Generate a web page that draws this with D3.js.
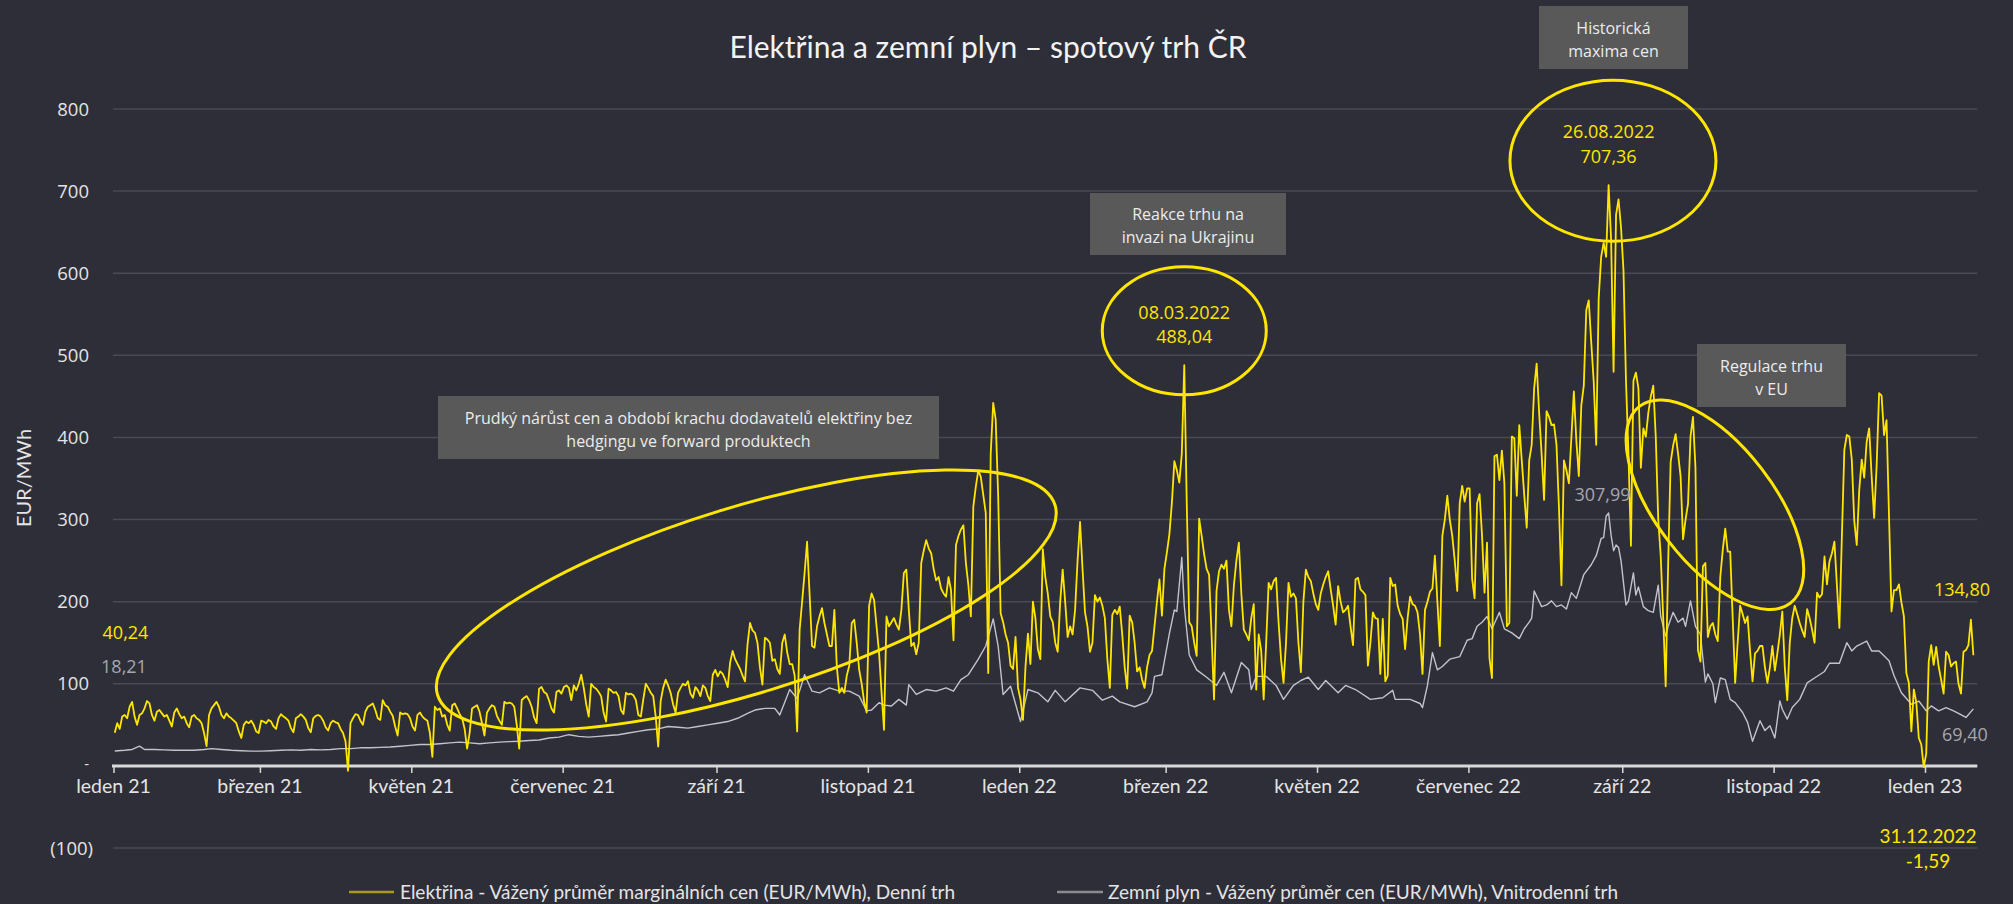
<!DOCTYPE html>
<html><head><meta charset="utf-8">
<script src="https://cdnjs.cloudflare.com/ajax/libs/d3/7.8.5/d3.min.js"></script>
<style>
html,body{margin:0;padding:0;background:#2e2e38;}
svg{display:block;}
</style></head><body>
<svg id="chart" width="2013" height="904"></svg>
<script>
// ---------------- DATA ----------------
const chartTitle = "Elektřina a zemní plyn – spotový trh ČR";
const yAxisTitle = "EUR/MWh";
const yTickValues = [-100, 0, 100, 200, 300, 400, 500, 600, 700, 800];
const xTickDates = ["2021-01-01","2021-03-01","2021-05-01","2021-07-01","2021-09-01","2021-11-01",
                    "2022-01-01","2022-03-01","2022-05-01","2022-07-01","2022-09-01","2022-11-01","2023-01-01"];
const xTickLabels = ["leden 21","březen 21","květen 21","červenec 21","září 21","listopad 21",
                     "leden 22","březen 22","květen 22","červenec 22","září 22","listopad 22","leden 23"];
const seriesNames = ["Elektřina - Vážený průměr marginálních cen (EUR/MWh), Denní trh",
                     "Zemní plyn - Vážený průměr cen (EUR/MWh), Vnitrodenní trh"];

// Electricity, daily values, one array per month
const elec2021 = [
 [40.24,52,45,60,62,58,72,78,60,50,62,64,70,79,76,62,55,66,68,64,60,62,55,48,65,70,63,58,60,52,47],
 [60,62,58,56,52,40,24,62,70,74,78,72,62,58,64,60,58,55,52,42,34,50,54,52,55,50,42,40],
 [55,54,52,56,54,48,45,58,63,60,58,55,46,41,58,60,63,60,56,46,41,58,61,62,60,55,47,43,52,55,53],
 [52,45,40,30,-6,52,58,63,62,55,50,66,72,74,76,68,58,56,80,74,72,66,61,48,37,65,63,64,63,58],
 [48,43,62,65,60,57,55,40,11,72,68,70,60,62,50,43,74,76,70,63,58,45,21,40,70,72,74,66,52,37,65],
 [70,74,72,61,55,50,78,76,77,76,72,50,21,80,83,85,80,72,59,52,94,96,90,88,80,70,65,90,92,88],
 [96,98,95,80,98,92,100,111,95,75,60,100,96,94,90,85,65,54,94,92,89,90,85,68,63,89,87,88,86,80,62],
 [60,81,100,95,89,85,60,23.5,79,95,105,98,89,75,65,89,95,100,98,103,88,83,96,92,85,98,95,85,79,111,117],
 [109,115,112,105,96,126,140,130,124,118,110,103,148,174,165,162,150,120,99,156,154,150,128,130,118,112,150,160,138,124],
 [124,110,42,166,200,235,273,210,146,144,170,182,192,174,160,146,146,190,120,89,95,89,110,122,174,178,150,117,100,78,65],
 [195,210,202,170,138,90,44,182,170,175,180,172,166,190,235,239,190,146,150,136,150,247,262,275,265,259,240,226,230,216],
 [210,206,230,214,153,269,280,288,293,247,220,182,316,340,360,352,330,308,113,380,442,422,330,186,175,160,150,122,118,157,95]
];
const elec2022 = [
 [81,56,120,161,124,200,180,142,130,264,230,210,182,175,150,139,200,239,200,157,170,160,190,250,297,240,187,170,139,150,208],
 [200,205,195,180,130,95,184,190,185,194,160,120,94,183,175,150,115,120,105,95,120,135,140,170,200,227,183,240],
 [260,282,320,371,360,345,380,488.04,320,175,170,150,134,301,280,258,240,233,160,81,213,237,245,240,250,190,170,220,250,272,210],
 [166,160,153,180,197,93,160,140,81,150,223,215,225,229,175,130,101,150,223,206,210,204,150,114,200,239,230,225,210,197],
 [190,210,221,230,237,215,195,172,219,200,187,190,195,170,147,227,229,215,212,208,122,150,187,180,179,112,179,103,110,229,219],
 [221,195,185,179,142,180,206,197,195,187,160,112,190,200,212,216,256,200,146,280,300,329,300,280,250,213,320,341,322,338],
 [338,228,204,320,331,280,211,272,131,107,377,379,348,384,344,170,174,401,399,329,415,372,330,290,372,391,460,490,430,380,324],
 [432,425,415,416,391,314,220,372,360,344,400,456,396,353,439,463,555,567,516,468,391,569,620,637,620,707.36,642,480,671,690,656],
 [603,469,380,268,469,479,460,363,411,401,430,450,463,401,300,256,180,97,247,370,390,404,380,353,276,300,319,401,425,363],
 [141,127,243,247,157,170,174,160,152,230,263,289,261,261,180,101,150,195,185,174,182,140,103,137,140,146,146,120,101,120,146],
 [116,137,160,188,120,80,150,180,195,185,174,165,157,191,180,166,150,211,205,209,255,221,249,259,273,220,168,279,385,403],
 [401,373,298,269,336,373,351,395,411,353,302,365,454,451,403,421,304,188,214,214,221,199,182,113,101,42,93,77,34,26,-1.59]
];
const elec2023 = [
 [15,127,147,123,145,121,105,88,139,135,121,125,127,100,88,139,141,147,178,134.80]
];

// Natural gas (intraday), sampled dates
const gasDates = [
 "2021-01-01","2021-01-05","2021-01-08","2021-01-11","2021-01-13","2021-01-17","2021-01-21","2021-01-25","2021-01-29",
 "2021-02-02","2021-02-06","2021-02-09","2021-02-13","2021-02-17","2021-02-21","2021-02-25",
 "2021-03-01","2021-03-05","2021-03-09","2021-03-13","2021-03-17","2021-03-21","2021-03-25","2021-03-29",
 "2021-04-02","2021-04-06","2021-04-10","2021-04-14","2021-04-18","2021-04-22","2021-04-26","2021-04-30",
 "2021-05-04","2021-05-08","2021-05-12","2021-05-16","2021-05-20","2021-05-24","2021-05-28",
 "2021-06-01","2021-06-05","2021-06-09","2021-06-13","2021-06-17","2021-06-21","2021-06-25","2021-06-29",
 "2021-07-03","2021-07-07","2021-07-11","2021-07-15","2021-07-19","2021-07-23","2021-07-27","2021-07-31",
 "2021-08-04","2021-08-08","2021-08-12","2021-08-16","2021-08-20","2021-08-24","2021-08-28",
 "2021-09-01","2021-09-05","2021-09-09","2021-09-13","2021-09-16","2021-09-20","2021-09-24","2021-09-26","2021-09-30",
 "2021-10-03","2021-10-06","2021-10-09","2021-10-12","2021-10-16","2021-10-20","2021-10-24","2021-10-28","2021-10-31",
 "2021-11-02","2021-11-05","2021-11-07","2021-11-10","2021-11-13","2021-11-16","2021-11-17","2021-11-20","2021-11-24","2021-11-28",
 "2021-12-02","2021-12-05","2021-12-08","2021-12-11","2021-12-15","2021-12-18","2021-12-21","2021-12-23","2021-12-25","2021-12-28",
 "2022-01-01","2022-01-04","2022-01-08","2022-01-12","2022-01-15","2022-01-19","2022-01-25","2022-01-30",
 "2022-02-03","2022-02-07","2022-02-10","2022-02-16","2022-02-21","2022-02-23","2022-02-24","2022-02-27",
 "2022-03-02","2022-03-04","2022-03-05","2022-03-07","2022-03-08","2022-03-10","2022-03-13","2022-03-17","2022-03-21","2022-03-24","2022-03-27","2022-03-31",
 "2022-04-03","2022-04-04","2022-04-06","2022-04-10","2022-04-14","2022-04-17","2022-04-21","2022-04-24","2022-04-27",
 "2022-05-01","2022-05-04","2022-05-09","2022-05-12","2022-05-16","2022-05-22","2022-05-27","2022-05-31",
 "2022-06-01","2022-06-07","2022-06-11","2022-06-12","2022-06-14","2022-06-16","2022-06-18","2022-06-20","2022-06-23","2022-06-27","2022-06-30",
 "2022-07-02","2022-07-04","2022-07-06","2022-07-08","2022-07-10","2022-07-13","2022-07-15","2022-07-18","2022-07-21","2022-07-23","2022-07-25","2022-07-26","2022-07-27","2022-07-30",
 "2022-08-01","2022-08-03","2022-08-05","2022-08-07","2022-08-09","2022-08-11","2022-08-13","2022-08-16","2022-08-19","2022-08-21","2022-08-23","2022-08-24","2022-08-25","2022-08-26","2022-08-27","2022-08-28","2022-08-29","2022-08-30","2022-08-31",
 "2022-09-02","2022-09-03","2022-09-05","2022-09-06","2022-09-07","2022-09-09","2022-09-11","2022-09-13","2022-09-15","2022-09-16","2022-09-18","2022-09-19","2022-09-21","2022-09-23","2022-09-25","2022-09-26","2022-09-28","2022-09-30",
 "2022-10-02","2022-10-04","2022-10-05","2022-10-07","2022-10-08","2022-10-10","2022-10-12","2022-10-14","2022-10-16","2022-10-19","2022-10-21","2022-10-23","2022-10-26","2022-10-28","2022-10-30",
 "2022-11-01","2022-11-03","2022-11-04","2022-11-06","2022-11-08","2022-11-11","2022-11-14","2022-11-17","2022-11-21","2022-11-23","2022-11-27","2022-11-30",
 "2022-12-02","2022-12-04","2022-12-08","2022-12-10","2022-12-13","2022-12-17","2022-12-19","2022-12-22","2022-12-26","2022-12-29",
 "2023-01-01","2023-01-03","2023-01-06","2023-01-09","2023-01-12","2023-01-14","2023-01-17","2023-01-20"
];
const gasValues = [
 18.21,19,20,24,20,20,19.5,19,19,
 19,20,21,20,19,18.5,18,
 18,18.5,19,19.5,19,20,19.5,20,
 21,21,22,22,22.5,23,24,25,
 26,26,27,28,29,28,27,
 28,29,29.5,30,31,31.5,34,35,
 38,36,35,36,37,38,40,42,
 44,45,48,47,46,48,50,
 52,54,58,64,68,70,70,62,93,
 82,111,91,89,95,91,91,85,67,
 68,77,74,73,81,74,99,87,93,91,
 95,91,105,111,130,146,179,146,87,97,
 54,93,89,78,92,78,95,92,
 80,85,78,72,78,89,109,111,
 161,190,188,254,195,135,117,108,98,114,89,126,
 117,93,109,109,98,81,98,104,108,
 93,104,89,98,93,81,83,92,
 81,81,76,71,98,138,117,121,130,133,153,
 155,170,175,182,167,187,167,162,155,167,175,180,213,194,
 196,201,194,196,191,211,204,233,245,256,277,278,304,307.99,281,262,269,266,250,
 196,201,235,208,218,194,189,187,220,182,158,170,187,175,180,170,201,170,
 160,102,112,100,77,107,105,81,77,65,53,30,55,43,49,
 34,79,69,57,71,81,101,107,115,125,125,150,
 140,146,152,140,140,128,110,89,75,79,
 67,73,67,71,67,64,59,69.40
];

// Annotation texts
const boxTexts = [
 ["Prudký nárůst cen a období krachu dodavatelů elektřiny bez", "hedgingu ve forward produktech"],
 ["Reakce trhu na", "invazi na Ukrajinu"],
 ["Historická", "maxima cen"],
 ["Regulace trhu", "v EU"]
];
const peakLabels = [["08.03.2022","488,04"],["26.08.2022","707,36"]];
const endLabels = {elecFirst:"40,24", gasFirst:"18,21", gasPeak:"307,99", elecLast:"134,80", gasLast:"69,40", minDate:"31.12.2022", minVal:"-1,59"};

// ---------------- CHART ----------------
const W = 2013, H = 904;
const YELLOW = "#ffe600", GASC = "#c3c3cc", TXT = "#e4e4e4", GRID = "#4a4a55", LBLGREY = "#a6a6ae";
const FCAL = "Lato, 'Open Sans', sans-serif";
const FSEG = "'Open Sans', 'Noto Sans', sans-serif";
const svg = d3.select("#chart");
svg.append("rect").attr("width", W).attr("height", H).attr("fill", "#2e2e38");

const parse = d3.timeParse("%Y-%m-%d");
const noon = d => new Date(d.getFullYear(), d.getMonth(), d.getDate(), 12);

const x = d3.scaleTime().domain([new Date(2021,0,1), new Date(2023,0,1)]).range([113.5, 1925]);
const y = d3.scaleLinear().domain([-100, 800]).range([848, 109]);
const xEnd = x(new Date(2023,0,22,2));

// build series
const elec = [];
[[2021, elec2021],[2022, elec2022],[2023, elec2023]].forEach(([yr, months]) => {
  months.forEach((arr, m) => arr.forEach((v, i) => elec.push({date: new Date(yr, m, i+1, 12), v})));
});
const gas = gasDates.map((d, i) => ({date: noon(parse(d)), v: gasValues[i]}));

// gridlines
svg.append("g").selectAll("line").data(yTickValues.filter(v => v !== 0)).join("line")
  .attr("x1", 113).attr("x2", xEnd).attr("y1", d => y(d)).attr("y2", d => y(d))
  .attr("stroke", GRID).attr("stroke-width", 1.5);

// y labels
const yFmt = v => v === 0 ? "-" : v < 0 ? "(" + Math.abs(v) + ")" : String(v);
svg.append("g").selectAll("text").data(yTickValues).join("text")
  .attr("x", d => d < 0 ? 93 : 89).attr("y", d => y(d)).attr("dy", d => d === 0 ? "0.2em" : "0.36em")
  .attr("text-anchor", "end").attr("fill", TXT)
  .style("font-family", FSEG).style("font-size", d => d === 0 ? "15px" : "18.5px")
  .text(yFmt);

// y title
svg.append("text").attr("transform", "translate(31,478) rotate(-90)")
  .attr("text-anchor", "middle").attr("fill", TXT)
  .style("font-family", FCAL).style("font-size", "20px").text(yAxisTitle);

// x axis
const xAxis = d3.axisBottom(x).tickValues(xTickDates.map(parse)).tickSize(7).tickFormat("");
const gx = svg.append("g").attr("transform", `translate(0,${y(0)})`).call(xAxis);
gx.select(".domain").remove();
gx.selectAll(".tick line").attr("stroke", "#d9d9d9").attr("stroke-width", 1.5);
svg.append("line").attr("x1", 112).attr("x2", xEnd).attr("y1", y(0)).attr("y2", y(0))
  .attr("stroke", "#d9d9d9").attr("stroke-width", 3);
svg.append("g").selectAll("text").data(xTickDates).join("text")
  .attr("x", d => x(parse(d))).attr("y", 793).attr("text-anchor", "middle").attr("fill", TXT)
  .style("font-family", FCAL).style("font-size", "19.5px")
  .text((d, i) => xTickLabels[i]);

// lines
const line = d3.line().x(d => x(d.date)).y(d => y(d.v));
svg.append("path").datum(gas).attr("d", line).attr("fill", "none")
  .attr("stroke", GASC).attr("stroke-width", 1.4).attr("stroke-linejoin", "round");
svg.append("path").datum(elec).attr("d", line).attr("fill", "none")
  .attr("stroke", YELLOW).attr("stroke-width", 1.8).attr("stroke-linejoin", "round");

// ellipses (annotation)
const ell = svg.append("g").attr("fill", "none").attr("stroke", YELLOW).attr("stroke-width", 3);
ell.append("ellipse").attr("transform", `translate(${x(new Date(2021,8,13))},${y(202)}) rotate(-17.1)`)
  .attr("rx", 323).attr("ry", 93);
ell.append("ellipse").attr("cx", x(new Date(2022,2,8,12))).attr("cy", y(530)).attr("rx", 82).attr("ry", 64);
ell.append("ellipse").attr("cx", x(new Date(2022,7,28,6))).attr("cy", y(737)).attr("rx", 103).attr("ry", 80.5);
ell.append("ellipse").attr("transform", `translate(${x(new Date(2022,9,8,8))},${y(318)}) rotate(52.5)`)
  .attr("rx", 124).attr("ry", 59);

// annotation boxes
const boxes = [
  {x0: 438, y0: 396, x1: 939, y1: 459},
  {x0: 1090, y0: 193, x1: 1286, y1: 255},
  {x0: 1539, y0: 6, x1: 1688, y1: 69},
  {x0: 1697, y0: 344, x1: 1846, y1: 407}
];
boxes.forEach((b, i) => {
  svg.append("rect").attr("x", b.x0).attr("y", b.y0).attr("width", b.x1 - b.x0).attr("height", b.y1 - b.y0)
    .attr("fill", "#595959");
  const cx = (b.x0 + b.x1) / 2, cy = (b.y0 + b.y1) / 2;
  boxTexts[i].forEach((t, j) => {
    svg.append("text").attr("x", cx).attr("y", cy + (j === 0 ? -4 : 19)).attr("text-anchor", "middle")
      .attr("fill", "#ececec").style("font-family", FSEG).style("font-size", "16px").text(t);
  });
});

// value labels
function lbl(tx, xx, yy, col, fam, fs, anchor) {
  return svg.append("text").attr("x", xx).attr("y", yy).attr("text-anchor", anchor || "middle")
    .attr("fill", col).style("font-family", fam).style("font-size", fs + "px").text(tx);
}
lbl(endLabels.elecFirst, 125.5, 639, YELLOW, FSEG, 18);
lbl(endLabels.gasFirst, 124, 673, LBLGREY, FSEG, 18);
lbl(peakLabels[0][0], x(new Date(2022,2,8,12)), 319, YELLOW, FSEG, 18);
lbl(peakLabels[0][1], x(new Date(2022,2,8,12)), 343, YELLOW, FSEG, 18);
lbl(peakLabels[1][0], x(new Date(2022,7,26,12)), 138, YELLOW, FSEG, 18);
lbl(peakLabels[1][1], x(new Date(2022,7,26,12)), 163, YELLOW, FSEG, 18);
lbl(endLabels.gasPeak, 1602.5, 501, LBLGREY, FSEG, 18);
lbl(endLabels.elecLast, 1962, 596, YELLOW, FSEG, 18);
lbl(endLabels.gasLast, 1965, 741, LBLGREY, FSEG, 18);
lbl(endLabels.minDate, 1928, 843, YELLOW, FCAL, 19);
lbl(endLabels.minVal, 1928, 868, YELLOW, FCAL, 19);

// title
svg.append("text").attr("x", 988).attr("y", 58).attr("text-anchor", "middle").attr("fill", "#f2f2f2")
  .style("font-family", FCAL).style("font-size", "30px").text(chartTitle);

// legend
const lg = svg.append("g");
lg.append("line").attr("x1", 349).attr("x2", 394).attr("y1", 892).attr("y2", 892).attr("stroke", "#a89a1c").attr("stroke-width", 2.5);
lg.append("text").attr("x", 400).attr("y", 899).attr("fill", TXT).style("font-family", FCAL).style("font-size", "19px").text(seriesNames[0]);
lg.append("line").attr("x1", 1057).attr("x2", 1103).attr("y1", 892).attr("y2", 892).attr("stroke", "#8a8a90").attr("stroke-width", 2.5);
lg.append("text").attr("x", 1108).attr("y", 899).attr("fill", TXT).style("font-family", FCAL).style("font-size", "19px").text(seriesNames[1]);
</script>
</body></html>
